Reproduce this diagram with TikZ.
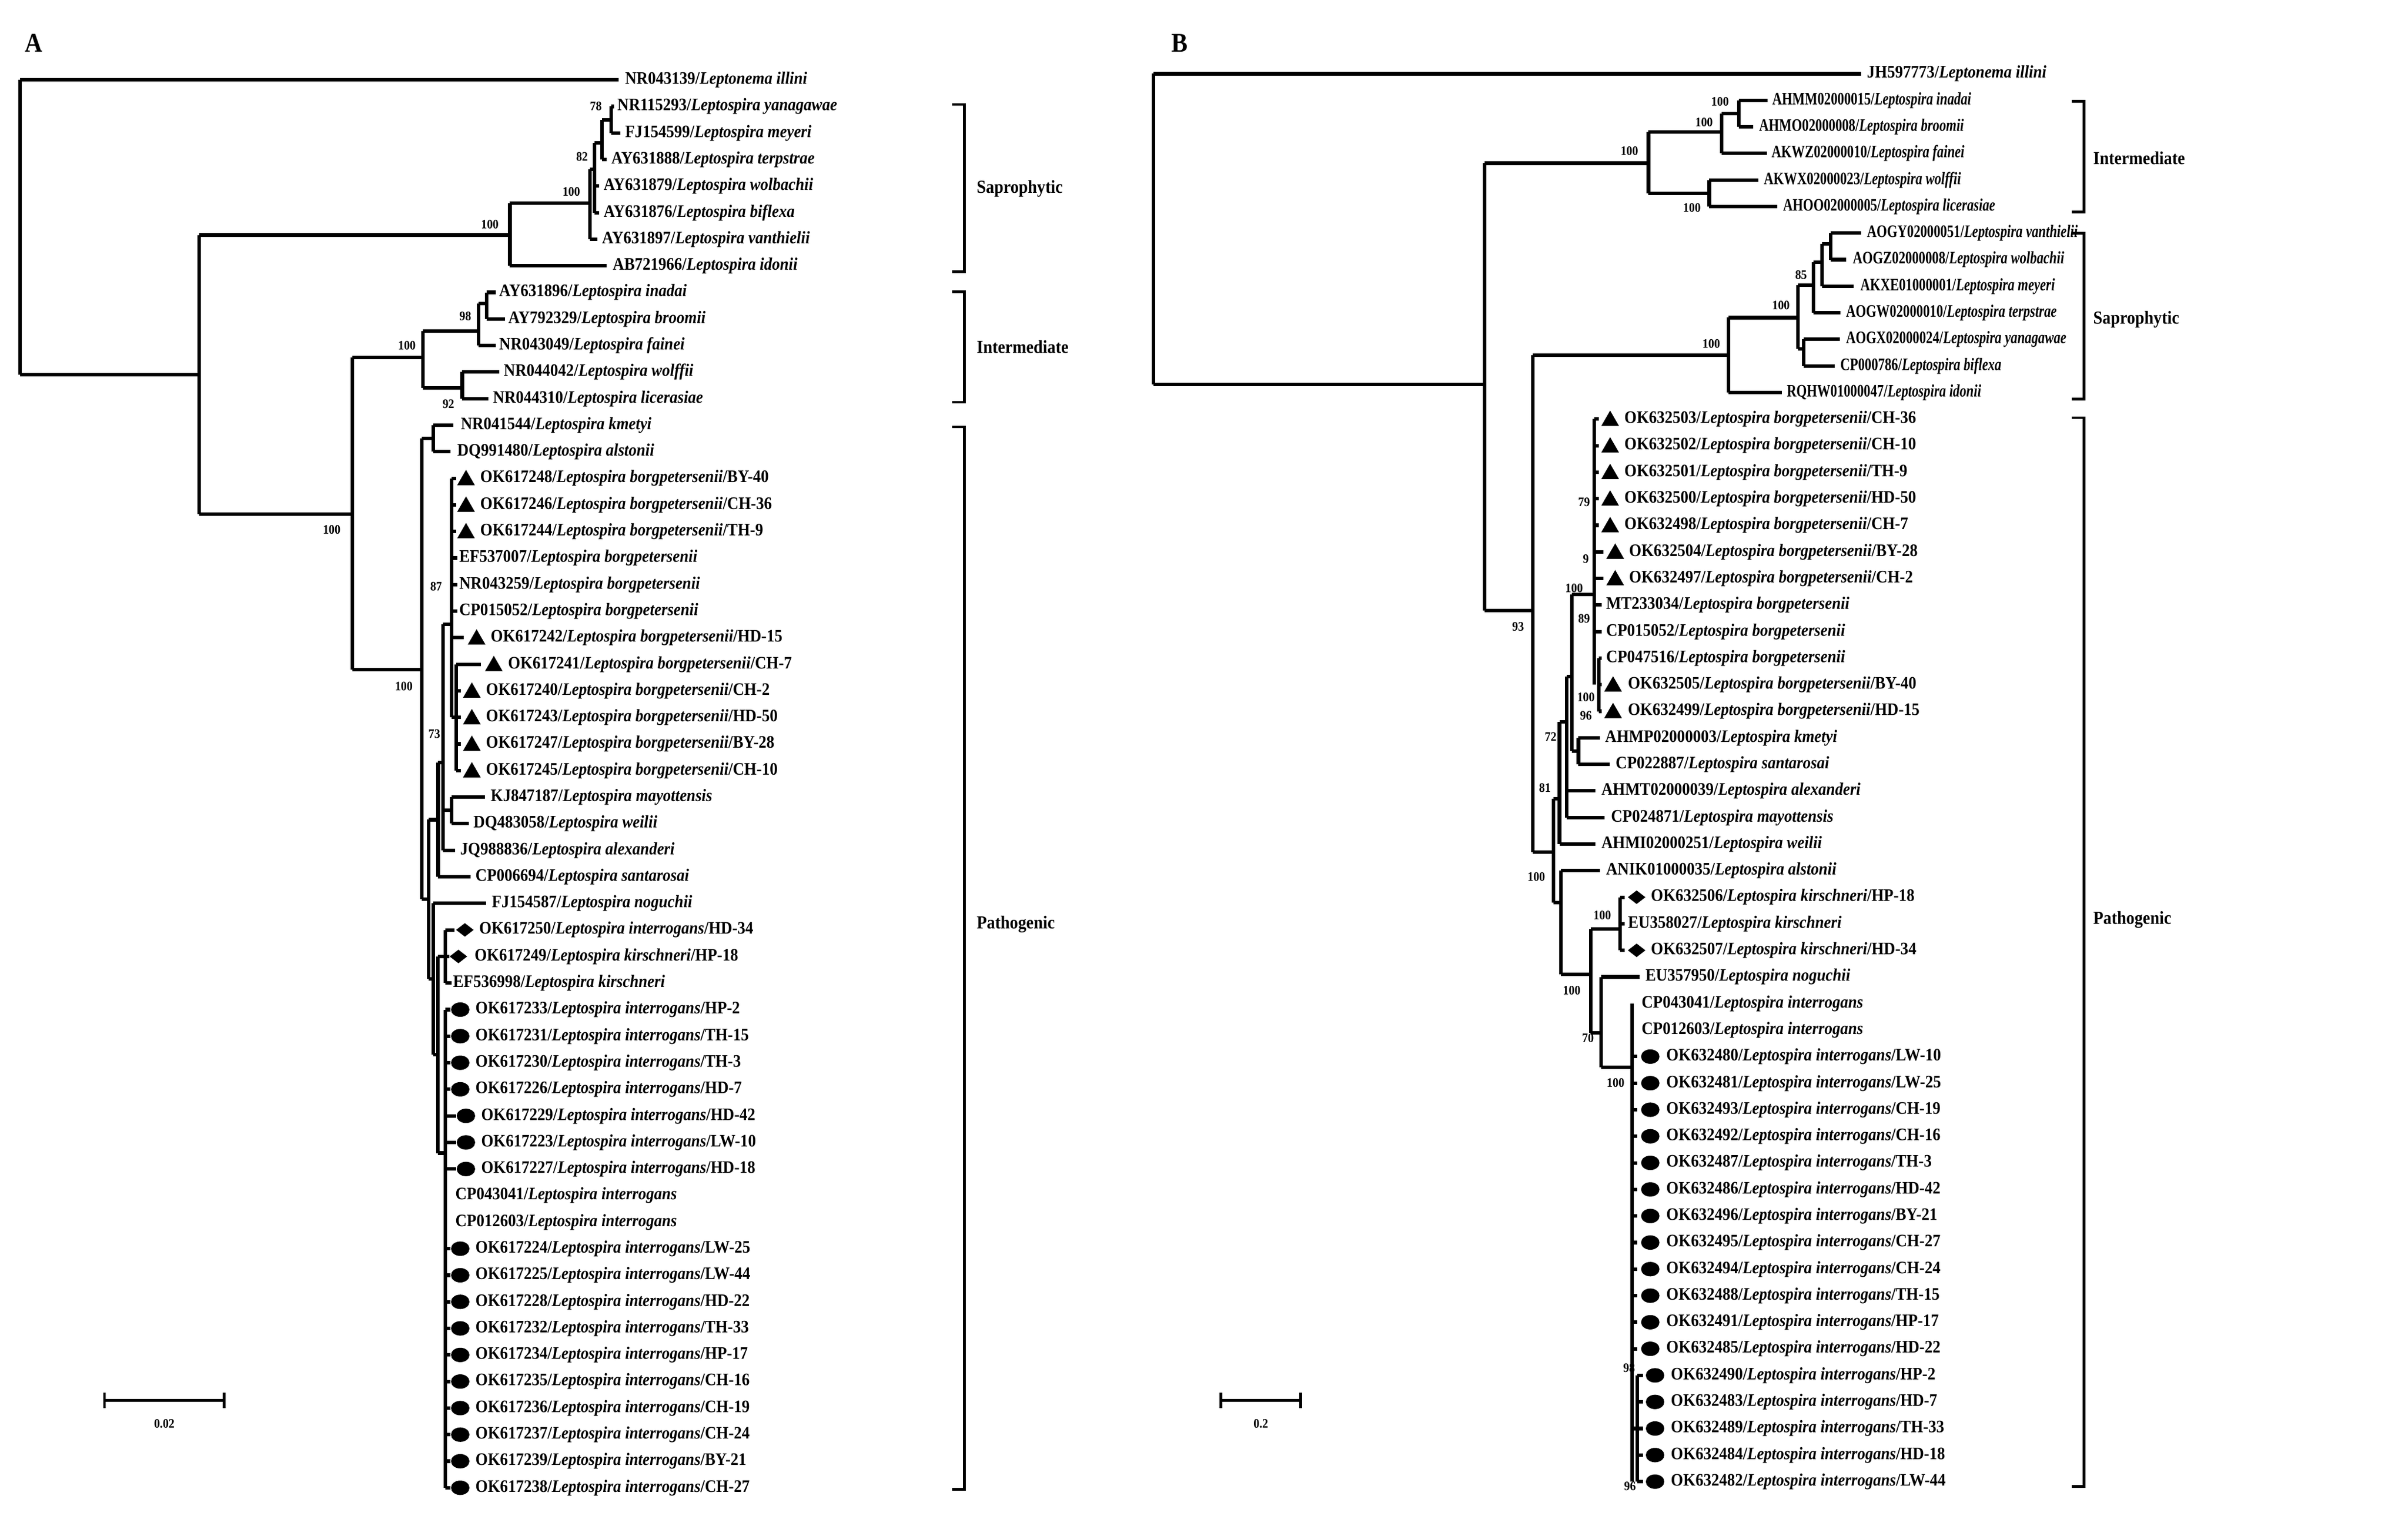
\documentclass[tikz,border=0pt]{standalone}
\usepackage{fontspec}
\setmainfont{Liberation Serif}[FakeStretch=0.9]
\newfontfamily\narrowf{Liberation Serif}[FakeStretch=0.76]
\begin{document}
\begin{tikzpicture}[x=0.1cm,y=-0.1cm,
  declare function={ra(\r)=52+17.3*\r; rb(\r)=48+17.3*\r;},
  br/.style={line width=6.5pt,line cap=square},
  brk/.style={line width=5pt},
  lab/.style={anchor=west,inner sep=0pt,font=\bfseries\fontsize{32.5}{33}\selectfont},
  nlab/.style={anchor=west,inner sep=0pt,font=\narrowf\bfseries\fontsize{32.5}{33}\selectfont},
  sup/.style={inner sep=0pt,font=\bfseries\fontsize{24}{24}\selectfont},
  clade/.style={anchor=west,inner sep=0pt,font=\bfseries\fontsize{34}{36}\selectfont}]
\newcommand\hA[3]{\draw[br] (#1,{ra(#3)}) -- (#2,{ra(#3)});}
\newcommand\vA[3]{\draw[br] (#1,{ra(#2)}) -- (#1,{ra(#3)});}
\newcommand\hB[3]{\draw[br] (#1,{rb(#3)}) -- (#2,{rb(#3)});}
\newcommand\vB[3]{\draw[br] (#1,{rb(#2)}) -- (#1,{rb(#3)});}
\newcommand\Lp[1]{/\textit{Leptospira #1}}
\newcommand\lA[4]{\node[lab] (#1) at (#2,{ra(#3)}) {#4};}
\newcommand\lB[4]{\node[lab] (#1) at (#2,{rb(#3)}) {#4};}
\newcommand\lN[4]{\node[nlab] (#1) at (#2,{rb(#3)}) {#4};}
\newcommand\tri[2]{\fill (#1,{#2+4.5}) -- ++(11.5,0) -- ++(-5.75,-10) -- cycle;}
\newcommand\cir[2]{\fill (#1+5.7,{#2}) ellipse [x radius=0.6cm, y radius=0.47cm];}
\newcommand\dia[2]{\fill (#1,{#2}) -- ++(5.7,-4.4) -- ++(5.7,4.4) -- ++(-5.7,4.4) -- cycle;}
\useasboundingbox (0,0) rectangle (1568,987);
\fill[white] (0,0) rectangle (1568,987);
% ================= Panel A =================
\node[inner sep=0pt,font=\bfseries\fontsize{50}{50}\selectfont] (pA) at (22,28) {A};
\vA{13}{0}{11.1}\hA{13}{403}{0}\hA{13}{129.6}{11.1}
\vA{129.6}{5.84}{16.35}\hA{129.6}{332}{5.84}\hA{129.6}{229.3}{16.35}
\vA{332}{4.65}{7}\hA{332}{384}{4.65}\hA{332}{395}{7}
\vA{384}{3.36}{6}\hA{384}{387}{3.36}\hA{384}{389}{6}
\vA{387}{2.37}{5}\hA{387}{392}{2.37}\hA{387}{390}{4}\hA{387}{390}{5}
\vA{392}{1.5}{3}\hA{392}{398}{1.5}\hA{392}{395}{3}
\vA{398}{1}{2}\hA{398}{400}{1}\hA{398}{404}{2}
\lA{a0}{407}{0}{NR043139/\textit{Leptonema illini}}
\lA{a1}{402}{1}{NR115293\Lp{yanagawae}}
\lA{a2}{407}{2}{FJ154599\Lp{meyeri}}
\lA{a3}{398}{3}{AY631888\Lp{terpstrae}}
\lA{a4}{393}{4}{AY631879\Lp{wolbachii}}
\lA{a5}{393}{5}{AY631876\Lp{biflexa}}
\lA{a6}{392}{6}{AY631897\Lp{vanthielii}}
\lA{a7}{399}{7}{AB721966\Lp{idonii}}
\node[sup] (sa1) at (388,69) {78};
\node[sup] (sa2) at (379,102) {82};
\node[sup] (sa3) at (372,125) {100};
\node[sup] (sa4) at (319,146) {100};
% intermediate
\vA{229.3}{10.46}{22.2}\hA{229.3}{275.4}{10.46}\hA{229.3}{274.7}{22.2}
\vA{275.4}{9.45}{11.6}\hA{275.4}{311.8}{9.45}\hA{275.4}{301}{11.6}
\vA{311.8}{8.43}{10}\hA{311.8}{317}{8.43}\hA{311.8}{323}{10}
\vA{317}{8}{9}\hA{317}{323}{8}\hA{317}{329}{9}
\vA{301}{11}{12}\hA{301}{325}{11}\hA{301}{318}{12}
\lA{a8}{325}{8}{AY631896\Lp{inadai}}
\lA{a9}{331}{9}{AY792329\Lp{broomii}}
\lA{a10}{325}{10}{NR043049\Lp{fainei}}
\lA{a11}{328}{11}{NR044042\Lp{wolffii}}
\lA{a12}{321}{12}{NR044310\Lp{licerasiae}}
\node[sup] (sa5) at (303,206) {98};
\node[sup] (sa6) at (265,225) {100};
\node[sup] (sa7) at (292,263) {92};
\node[sup] (sa8) at (216,345) {100};
\node[sup] (sa9) at (263,447) {100};
% pathogenic
\vA{274.7}{13.5}{30.85}\hA{274.7}{282.2}{13.5}\hA{274.7}{279}{30.85}
\vA{282.2}{13}{14}\hA{282.2}{295.2}{13}\hA{282.2}{293.4}{14}
\lA{a13}{300}{13}{NR041544\Lp{kmetyi}}
\lA{a14}{297.7}{14}{DQ991480\Lp{alstonii}}
\vA{279}{27.85}{33.85}\hA{279}{285.3}{27.85}\hA{279}{282.2}{33.85}
\vA{285.3}{25.7}{30}\hA{285.3}{288.4}{25.7}\hA{285.3}{306.5}{30}
\vA{288.4}{20.5}{29}\hA{288.4}{294}{20.5}\hA{288.4}{294}{27.5}\hA{288.4}{296.5}{29}
\vA{294}{27}{28}\hA{294}{315.8}{27}\hA{294}{305.2}{28}
\vA{294}{15}{24}
\foreach \r in {15,16,17}{\hA{294}{297}{\r}\tri{297.7}{ra(\r)}}
\foreach \r in {18,19,20}{\hA{294}{298}{\r}}
\hA{294}{302}{21}\tri{304.6}{ra(21)}
\hA{294}{297.1}{24}\vA{297.1}{22}{26}
\hA{297.1}{313.3}{22}\tri{315.8}{ra(22)}
\foreach \r in {23,24,25,26}{\hA{297.1}{300}{\r}\tri{301.5}{ra(\r)}}
\lA{a15}{312.7}{15}{OK617248\Lp{borgpetersenii}/BY-40}
\lA{a16}{312.7}{16}{OK617246\Lp{borgpetersenii}/CH-36}
\lA{a17}{312.7}{17}{OK617244\Lp{borgpetersenii}/TH-9}
\lA{a18}{299}{18}{EF537007\Lp{borgpetersenii}}
\lA{a19}{299}{19}{NR043259\Lp{borgpetersenii}}
\lA{a20}{299}{20}{CP015052\Lp{borgpetersenii}}
\lA{a21}{319.5}{21}{OK617242\Lp{borgpetersenii}/HD-15}
\lA{a22}{330.8}{22}{OK617241\Lp{borgpetersenii}/CH-7}
\lA{a23}{316.4}{23}{OK617240\Lp{borgpetersenii}/CH-2}
\lA{a24}{316.4}{24}{OK617243\Lp{borgpetersenii}/HD-50}
\lA{a25}{316.4}{25}{OK617247\Lp{borgpetersenii}/BY-28}
\lA{a26}{316.4}{26}{OK617245\Lp{borgpetersenii}/CH-10}
\lA{a27}{319.5}{27}{KJ847187\Lp{mayottensis}}
\lA{a28}{308.3}{28}{DQ483058\Lp{weilii}}
\lA{a29}{299.6}{29}{JQ988836\Lp{alexanderi}}
\lA{a30}{309.6}{30}{CP006694\Lp{santarosai}}
\node[sup] (sa10) at (284,382) {87};
\node[sup] (sa11) at (282.8,478) {73};
\vA{282.2}{31}{36.7}\hA{282.2}{316.4}{31}\hA{282.2}{285}{36.7}
\lA{a31}{320.2}{31}{FJ154587\Lp{noguchii}}
\vA{285}{33}{40.4}\hA{285}{290}{33}\hA{285}{290}{40.4}
\vA{290}{32}{34}\hA{290}{296}{32}\hA{290}{292.5}{33}\hA{290}{294}{34}
\dia{297}{ra(32)}\dia{292.8}{ra(33)}
\lA{a32}{312}{32}{OK617250\Lp{interrogans}/HD-34}
\lA{a33}{309}{33}{OK617249\Lp{kirschneri}/HP-18}
\lA{a34}{295}{34}{EF536998\Lp{kirschneri}}
\vA{290}{35}{53}
\foreach \r in {35,36,37,38,44,45,46,47,48,49,50,51,52,53}{\hA{290}{293.5}{\r}\cir{294}{ra(\r)}}
\foreach \r in {39,40,41}{\hA{290}{297}{\r}\cir{297.7}{ra(\r)}}
\lA{a35}{309.6}{35}{OK617233\Lp{interrogans}/HP-2}
\lA{a36}{309.6}{36}{OK617231\Lp{interrogans}/TH-15}
\lA{a37}{309.6}{37}{OK617230\Lp{interrogans}/TH-3}
\lA{a38}{309.6}{38}{OK617226\Lp{interrogans}/HD-7}
\lA{a39}{313.3}{39}{OK617229\Lp{interrogans}/HD-42}
\lA{a40}{313.3}{40}{OK617223\Lp{interrogans}/LW-10}
\lA{a41}{313.3}{41}{OK617227\Lp{interrogans}/HD-18}
\lA{a42}{296.5}{42}{CP043041\Lp{interrogans}}
\lA{a43}{296.5}{43}{CP012603\Lp{interrogans}}
\lA{a44}{309.6}{44}{OK617224\Lp{interrogans}/LW-25}
\lA{a45}{309.6}{45}{OK617225\Lp{interrogans}/LW-44}
\lA{a46}{309.6}{46}{OK617228\Lp{interrogans}/HD-22}
\lA{a47}{309.6}{47}{OK617232\Lp{interrogans}/TH-33}
\lA{a48}{309.6}{48}{OK617234\Lp{interrogans}/HP-17}
\lA{a49}{309.6}{49}{OK617235\Lp{interrogans}/CH-16}
\lA{a50}{309.6}{50}{OK617236\Lp{interrogans}/CH-19}
\lA{a51}{309.6}{51}{OK617237\Lp{interrogans}/CH-24}
\lA{a52}{309.6}{52}{OK617239\Lp{interrogans}/BY-21}
\lA{a53}{309.6}{53}{OK617238\Lp{interrogans}/CH-27}
% scale bar A
\coordinate (sbA1) at (68,912); \coordinate (sbA2) at (146,912);
\draw[line width=5pt] (sbA1) -- (sbA2);
\draw[line width=5pt] (68,907) -- (68,917) (146,907) -- (146,917);
\node[sup] (sbAt) at (107,927) {0.02};
% brackets A
\draw[brk] (620,68) -- (628,68) -- (628,177) -- (620,177);
\draw[brk] (620,190) -- (628,190) -- (628,262) -- (620,262);
\draw[brk] (620,278) -- (628,278) -- (628,970) -- (620,970);
\node[clade] (cA1) at (636,123) {Saprophytic};
\node[clade] (cA2) at (636,226) {Intermediate};
\node[clade] (cA3) at (636,602) {Pathogenic};
% ================= Panel B =================
\node[inner sep=0pt,font=\bfseries\fontsize{50}{50}\selectfont] (pB) at (768,28) {B};
\vB{751}{0}{11.7}\hB{751}{1212}{0}\hB{751}{966.7}{11.7}
\lB{b0}{1215.7}{0}{JH597773/\textit{Leptonema illini}}
\vB{966.7}{3.37}{20.2}\hB{966.7}{1073.4}{3.37}\hB{966.7}{998}{20.2}
\vB{1073.4}{2.2}{4.5}\hB{1073.4}{1121}{2.2}\hB{1073.4}{1113}{4.5}
\vB{1121}{1.5}{3}\hB{1121}{1132.3}{1.5}\hB{1121}{1150.4}{3}
\vB{1132.3}{1}{2}\hB{1132.3}{1151}{1}\hB{1132.3}{1141.7}{2}
\vB{1113}{4}{5}\hB{1113}{1144.8}{4}\hB{1113}{1157.2}{5}
\lN{b1}{1154}{1}{AHMM02000015\Lp{inadai}}
\lN{b2}{1145.4}{2}{AHMO02000008\Lp{broomii}}
\lN{b3}{1153.5}{3}{AKWZ02000010\Lp{fainei}}
\lN{b4}{1148.5}{4}{AKWX02000023\Lp{wolffii}}
\lN{b5}{1161}{5}{AHOO02000005\Lp{licerasiae}}
\node[sup] (sb1) at (1120,66) {100};
\node[sup] (sb2) at (1109.6,79.5) {100};
\node[sup] (sb3) at (1061,98.3) {100};
\node[sup] (sb4) at (1101.7,135.3) {100};
\vB{998}{10.6}{29.3}\hB{998}{1125.5}{10.6}\hB{998}{1011.6}{29.3}
\vB{1125.5}{9.18}{12}\hB{1125.5}{1170.9}{9.18}\hB{1125.5}{1160.3}{12}
\vB{1170.9}{7.96}{10.35}\hB{1170.9}{1180.9}{7.96}\hB{1170.9}{1174.6}{10.35}
\vB{1180.9}{7.1}{9}\hB{1180.9}{1186.5}{7.1}\hB{1180.9}{1198.3}{9}
\vB{1186.5}{6.4}{8}\hB{1186.5}{1192}{6.4}\hB{1186.5}{1207}{8}
\vB{1192}{6}{7}\hB{1192}{1212}{6}\hB{1192}{1202}{7}
\vB{1174.6}{10}{11}\hB{1174.6}{1198}{10}\hB{1174.6}{1194.6}{11}
\lN{b6}{1215.7}{6}{AOGY02000051\Lp{vanthielii}}
\lN{b7}{1206.4}{7}{AOGZ02000008\Lp{wolbachii}}
\lN{b8}{1211.4}{8}{AKXE01000001\Lp{meyeri}}
\lN{b9}{1202}{9}{AOGW02000010\Lp{terpstrae}}
\lN{b10}{1202}{10}{AOGX02000024\Lp{yanagawae}}
\lN{b11}{1198.3}{11}{CP000786\Lp{biflexa}}
\lN{b12}{1163.4}{12}{RQHW01000047\Lp{idonii}}
\node[sup] (sb5) at (1172.8,179) {85};
\node[sup] (sb6) at (1159.7,199) {100};
\node[sup] (sb7) at (1114.3,224) {100};
\node[sup] (sb8) at (988.5,408) {93};
% pathogenic B
\vB{1011.6}{27.3}{31.2}\hB{1011.6}{1015.5}{27.3}\hB{1011.6}{1016.5}{31.2}
\vB{1015.5}{24.4}{29}\hB{1015.5}{1020}{24.4}\hB{1015.5}{1039}{29}
\vB{1020}{22.7}{28}\hB{1020}{1023.4}{22.7}\hB{1020}{1039}{27}\hB{1020}{1045}{28}
\vB{1023.4}{19.6}{25.5}\hB{1023.4}{1038}{19.6}\hB{1023.4}{1027.8}{25.5}
\vB{1027.8}{25}{26}\hB{1027.8}{1042}{25}\hB{1027.8}{1048}{26}
\vB{1038}{13}{23}
\foreach \r in {13,14,15,16,17}{\hB{1038}{1041}{\r}\tri{1042.7}{rb(\r)}}
\foreach \r in {18,19}{\hB{1038}{1044}{\r}\tri{1046}{rb(\r)}}
\foreach \r in {20,21}{\hB{1038}{1043}{\r}}
\vB{1041}{22}{24}\hB{1041}{1043}{22}
\foreach \r in {23,24}{\hB{1041}{1043}{\r}\tri{1044.6}{rb(\r)}}
\lB{b13}{1057.7}{13}{OK632503\Lp{borgpetersenii}/CH-36}
\lB{b14}{1057.7}{14}{OK632502\Lp{borgpetersenii}/CH-10}
\lB{b15}{1057.7}{15}{OK632501\Lp{borgpetersenii}/TH-9}
\lB{b16}{1057.7}{16}{OK632500\Lp{borgpetersenii}/HD-50}
\lB{b17}{1057.7}{17}{OK632498\Lp{borgpetersenii}/CH-7}
\lB{b18}{1060.8}{18}{OK632504\Lp{borgpetersenii}/BY-28}
\lB{b19}{1060.8}{19}{OK632497\Lp{borgpetersenii}/CH-2}
\lB{b20}{1045.8}{20}{MT233034\Lp{borgpetersenii}}
\lB{b21}{1045.8}{21}{CP015052\Lp{borgpetersenii}}
\lB{b22}{1045.8}{22}{CP047516\Lp{borgpetersenii}}
\lB{b23}{1060}{23}{OK632505\Lp{borgpetersenii}/BY-40}
\lB{b24}{1060}{24}{OK632499\Lp{borgpetersenii}/HD-15}
\lB{b25}{1045.2}{25}{AHMP02000003\Lp{kmetyi}}
\lB{b26}{1052}{26}{CP022887\Lp{santarosai}}
\lB{b27}{1042.7}{27}{AHMT02000039\Lp{alexanderi}}
\lB{b28}{1049}{28}{CP024871\Lp{mayottensis}}
\lB{b29}{1042.7}{29}{AHMI02000251\Lp{weilii}}
\node[sup] (sb9) at (1031.5,327) {79};
\node[sup] (sb10) at (1032.7,364) {9};
\node[sup] (sb11) at (1025,383) {100};
\node[sup] (sb12) at (1031.5,403) {89};
\node[sup] (sb13) at (1032.7,454) {100};
\node[sup] (sb14) at (1032.7,466) {96};
\node[sup] (sb15) at (1009.7,480) {72};
\node[sup] (sb16) at (1006,513) {81};
\node[sup] (sb17) at (1000.4,571) {100};
\vB{1016.5}{30}{33.9}\hB{1016.5}{1042}{30}\hB{1016.5}{1035.9}{33.9}
\lB{b30}{1045.8}{30}{ANIK01000035\Lp{alstonii}}
\vB{1035.9}{32.2}{36.1}\hB{1035.9}{1055}{32.2}\hB{1035.9}{1042.7}{36.1}
\vB{1055}{31}{33}\hB{1055}{1058}{31}\hB{1055}{1058}{32}\hB{1055}{1058}{33}
\dia{1060}{rb(31)}\dia{1060}{rb(33)}
\lB{b31}{1075}{31}{OK632506\Lp{kirschneri}/HP-18}
\lB{b32}{1060}{32}{EU358027\Lp{kirschneri}}
\lB{b33}{1075}{33}{OK632507\Lp{kirschneri}/HD-34}
\vB{1042.7}{34}{37.4}\hB{1042.7}{1067.6}{34}\hB{1042.7}{1062.6}{37.4}
\lB{b34}{1071.4}{34}{EU357950\Lp{noguchii}}
\vB{1062.6}{35}{53}
\lB{b35}{1068.9}{35}{CP043041\Lp{interrogans}}
\lB{b36}{1068.9}{36}{CP012603\Lp{interrogans}}
\foreach \r in {37,...,48}{\hB{1062.6}{1066}{\r}\cir{1068.9}{rb(\r)}}
\hB{1062.6}{1066}{51}\vB{1066}{49}{53}
\foreach \r in {49,...,53}{\hB{1066}{1070}{\r}\cir{1072}{rb(\r)}}
\lB{b37}{1085}{37}{OK632480\Lp{interrogans}/LW-10}
\lB{b38}{1085}{38}{OK632481\Lp{interrogans}/LW-25}
\lB{b39}{1085}{39}{OK632493\Lp{interrogans}/CH-19}
\lB{b40}{1085}{40}{OK632492\Lp{interrogans}/CH-16}
\lB{b41}{1085}{41}{OK632487\Lp{interrogans}/TH-3}
\lB{b42}{1085}{42}{OK632486\Lp{interrogans}/HD-42}
\lB{b43}{1085}{43}{OK632496\Lp{interrogans}/BY-21}
\lB{b44}{1085}{44}{OK632495\Lp{interrogans}/CH-27}
\lB{b45}{1085}{45}{OK632494\Lp{interrogans}/CH-24}
\lB{b46}{1085}{46}{OK632488\Lp{interrogans}/TH-15}
\lB{b47}{1085}{47}{OK632491\Lp{interrogans}/HP-17}
\lB{b48}{1085}{48}{OK632485\Lp{interrogans}/HD-22}
\lB{b49}{1088}{49}{OK632490\Lp{interrogans}/HP-2}
\lB{b50}{1088}{50}{OK632483\Lp{interrogans}/HD-7}
\lB{b51}{1088}{51}{OK632489\Lp{interrogans}/TH-33}
\lB{b52}{1088}{52}{OK632484\Lp{interrogans}/HD-18}
\lB{b53}{1088}{53}{OK632482\Lp{interrogans}/LW-44}
\node[sup] (sb18) at (1043.3,596) {100};
\node[sup] (sb19) at (1023.4,645) {100};
\node[sup] (sb20) at (1034,676) {70};
\node[sup] (sb21) at (1052,705) {100};
\node[sup] (sb22) at (1060.8,891) {98};
\node[sup] (sb23) at (1061.4,968) {96};
% scale bar B
\coordinate (sbB1) at (795,912); \coordinate (sbB2) at (847,912);
\draw[line width=5pt] (sbB1) -- (sbB2);
\draw[line width=5pt] (795,907) -- (795,917) (847,907) -- (847,917);
\node[sup] (sbBt) at (821,927) {0.2};
% brackets B
\draw[brk] (1349,66) -- (1357,66) -- (1357,138) -- (1349,138);
\draw[brk] (1349,152) -- (1357,152) -- (1357,260) -- (1349,260);
\draw[brk] (1349,272) -- (1357,272) -- (1357,968) -- (1349,968);
\node[clade] (cB1) at (1363,103) {Intermediate};
\node[clade] (cB2) at (1363,208) {Saprophytic};
\node[clade] (cB3) at (1363,599) {Pathogenic};
\end{tikzpicture}
\end{document}
